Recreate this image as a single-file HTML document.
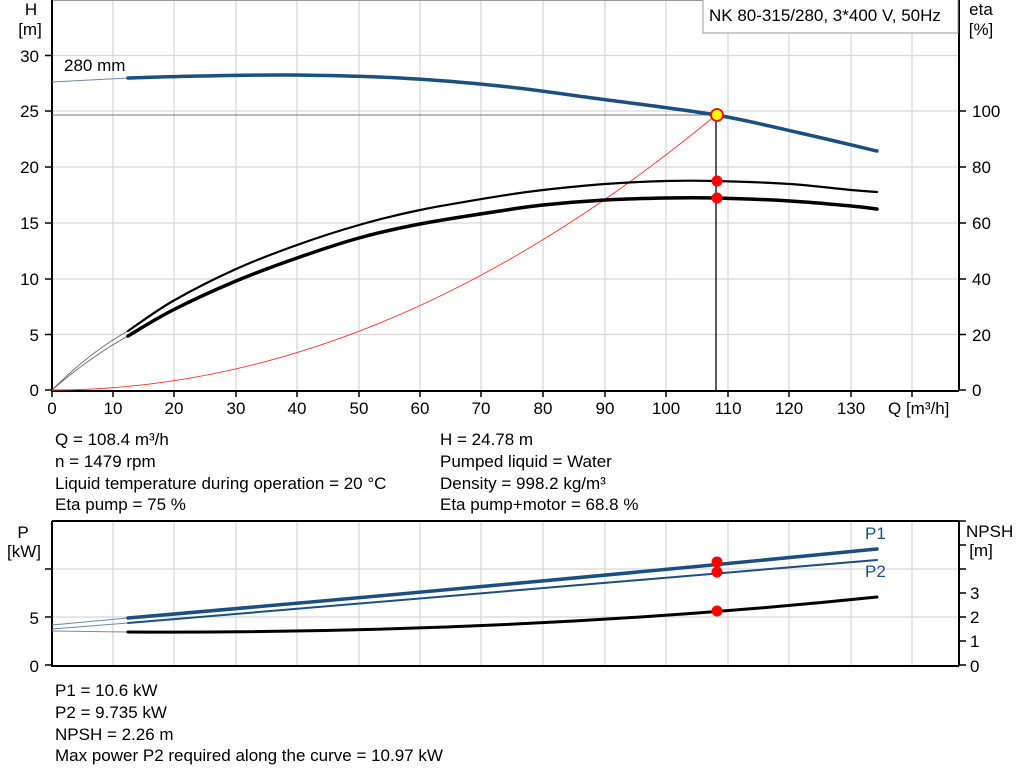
<!DOCTYPE html>
<html><head><meta charset="utf-8"><style>
body{margin:0;background:#fff;width:1024px;height:781px;overflow:hidden}
svg{display:block;font-family:"Liberation Sans",sans-serif}
</style></head><body>
<svg width="1024" height="781" viewBox="0 0 1024 781">
<g stroke="#d8d8d8" stroke-width="1.3" fill="none">
<path d="M113 0V390M174 0V390M236 0V390M297 0V390M359 0V390M420 0V390M481 0V390M543 0V390M605 0V390M666 0V390M728 0V390M789 0V390M851 0V390M912 0V390"/>
<path d="M52 55.5H959M52 111H959M52 167H959M52 223H959M52 279H959M52 334.5H959"/>
<path d="M113 521V665M174 521V665M236 521V665M297 521V665M359 521V665M420 521V665M481 521V665M543 521V665M605 521V665M666 521V665M728 521V665M789 521V665M851 521V665M912 521V665"/>
<path d="M52 569H959M52 617H959"/>
</g>
<path d="M52 0.5H959" stroke="#999" stroke-width="1"/>
<g stroke="#000" stroke-width="2" fill="none">
<path d="M52 0V391H959M959 0V391"/>
<path d="M52 521V666H959M52 521H959M959 521V666"/>
</g>
<g stroke="#000" stroke-width="1.5">
<path d="M45 390H52M45 334.5H52M45 279H52M45 223H52M45 167H52M45 111H52M45 55.5H52"/>
<path d="M959 390H966M959 334.5H966M959 279H966M959 223H966M959 167H966M959 111H966"/>
<path d="M52 390V397M113 390V397M174 390V397M236 390V397M297 390V397M359 390V397M420 390V397M481 390V397M543 390V397M605 390V397M666 390V397M728 390V397M789 390V397M851 390V397M912 390V397"/>
<path d="M45 665H52M45 617H52M45 569H52"/>
<path d="M959 665H966M959 641H966M959 617H966M959 593H966M959 569H966M959 545H966M959 521H966"/>
</g>
<g font-size="17" fill="#000">
<text x="31" y="15" text-anchor="middle">H</text>
<text x="30" y="35" text-anchor="middle">[m]</text>
<text x="39" y="62" text-anchor="end">30</text>
<text x="39" y="117" text-anchor="end">25</text>
<text x="39" y="173" text-anchor="end">20</text>
<text x="39" y="229" text-anchor="end">15</text>
<text x="39" y="285" text-anchor="end">10</text>
<text x="39" y="341" text-anchor="end">5</text>
<text x="39" y="396" text-anchor="end">0</text>
<text x="981" y="15" text-anchor="middle">eta</text>
<text x="981" y="35" text-anchor="middle">[%]</text>
<text x="972" y="117">100</text>
<text x="972" y="173">80</text>
<text x="972" y="229">60</text>
<text x="972" y="285">40</text>
<text x="972" y="341">20</text>
<text x="972" y="396">0</text>
<g text-anchor="middle">
<text x="52" y="414">0</text><text x="113" y="414">10</text><text x="174" y="414">20</text><text x="236" y="414">30</text><text x="297" y="414">40</text><text x="359" y="414">50</text><text x="420" y="414">60</text><text x="481" y="414">70</text><text x="543" y="414">80</text><text x="605" y="414">90</text><text x="666" y="414">100</text><text x="728" y="414">110</text><text x="789" y="414">120</text><text x="851" y="414">130</text>
</g>
<text x="888" y="414">Q [m³/h]</text>
<text x="64" y="71">280 mm</text>
<text x="23" y="538" text-anchor="middle">P</text>
<text x="24" y="557" text-anchor="middle">[kW]</text>
<text x="39" y="624" text-anchor="end">5</text>
<text x="39" y="672" text-anchor="end">0</text>
<text x="966" y="537">NPSH</text>
<text x="981" y="556" text-anchor="middle">[m]</text>
<text x="970" y="599">3</text><text x="970" y="623">2</text><text x="970" y="647">1</text><text x="970" y="672">0</text>
<text x="865" y="539" fill="#1a4f80">P1</text>
<text x="865" y="577" fill="#1a4f80">P2</text>
<text x="55" y="445">Q = 108.4 m³/h</text>
<text x="55" y="467">n = 1479 rpm</text>
<text x="55" y="489">Liquid temperature during operation = 20 °C</text>
<text x="55" y="510">Eta pump = 75 %</text>
<text x="440" y="445">H = 24.78 m</text>
<text x="440" y="467">Pumped liquid = Water</text>
<text x="440" y="489">Density = 998.2 kg/m³</text>
<text x="440" y="510">Eta pump+motor = 68.8 %</text>
<text x="55" y="696">P1 = 10.6 kW</text>
<text x="55" y="718">P2 = 9.735 kW</text>
<text x="55" y="740">NPSH = 2.26 m</text>
<text x="55" y="761">Max power P2 required along the curve = 10.97 kW</text>
</g>
<rect x="703" y="-1" width="255" height="34" fill="#fff" stroke="#999"/>
<text x="709" y="21" font-size="17">NK 80-315/280, 3*400 V, 50Hz</text>
<path d="M52 115H716" stroke="#777" stroke-width="1"/>
<path d="M716 115V390" stroke="#000" stroke-width="1.3"/>
<path d="M52 390Q384 390 716 115" stroke="#ff3030" stroke-width="0.9" fill="none"/>
<path d="M52 82L128 78" stroke="#6a87a8" stroke-width="1" fill="none"/>
<path id="h" stroke="#1a4f80" stroke-width="3.5" fill="none" stroke-linecap="round"/>
<path d="M52 390Q90 352 128 331M52 390Q90 357 128 336" stroke="#666" stroke-width="0.9" fill="none"/>
<path id="e1" stroke="#000" stroke-width="2.2" fill="none" stroke-linecap="round"/>
<path id="e2" stroke="#000" stroke-width="3.5" fill="none" stroke-linecap="round"/>
<circle cx="717" cy="181" r="5.5" fill="#f00"/>
<circle cx="717" cy="198" r="5.5" fill="#f00"/>
<circle cx="717" cy="115" r="6" fill="#ffff00" stroke="#f00" stroke-width="1.8"/>
<path d="M52 625L128 618M52 629L128 623" stroke="#6a87a8" stroke-width="1" fill="none"/>
<path d="M52 631L128 632" stroke="#888" stroke-width="1" fill="none"/>
<path d="M128 618Q500 586 877 549" stroke="#1a4f80" stroke-width="3.5" fill="none" stroke-linecap="round"/>
<path d="M128 623Q500 593 877 560" stroke="#1a4f80" stroke-width="2" fill="none" stroke-linecap="round"/>
<path d="M128 632Q520 634 877 597" stroke="#000" stroke-width="3" fill="none" stroke-linecap="round"/>
<circle cx="717" cy="562" r="5.5" fill="#f00"/>
<circle cx="717" cy="572" r="5.5" fill="#f00"/>
<circle cx="717" cy="611" r="5.5" fill="#f00"/>
</svg>
<script>
function cr(p){var d="M"+p[0][0]+" "+p[0][1];for(var i=0;i<p.length-1;i++){var a=p[i-1]||p[i],b=p[i],c=p[i+1],e=p[i+2]||c;d+="C"+(b[0]+(c[0]-a[0])/6)+" "+(b[1]+(c[1]-a[1])/6)+" "+(c[0]-(e[0]-b[0])/6)+" "+(c[1]-(e[1]-b[1])/6)+" "+c[0]+" "+c[1];}return d;}
document.getElementById("h").setAttribute("d",cr([[128,78],[200,76],[290,75],[400,78],[500,86],[600,99],[716,115],[800,133],[877,151]]));
document.getElementById("e1").setAttribute("d",cr([[128,331],[173,301],[236,269],[297,245],[359,225],[420,210],[500,196],[543,190],[605,184],[666,181],[716,181],[790,184],[851,190],[877,192]]));
document.getElementById("e2").setAttribute("d",cr([[128,336],[173,310],[236,281],[297,258],[359,238],[420,224],[500,211],[543,205],[605,200],[666,198],[716,198],[790,201],[851,206],[877,209]]));
</script>
</body></html>
